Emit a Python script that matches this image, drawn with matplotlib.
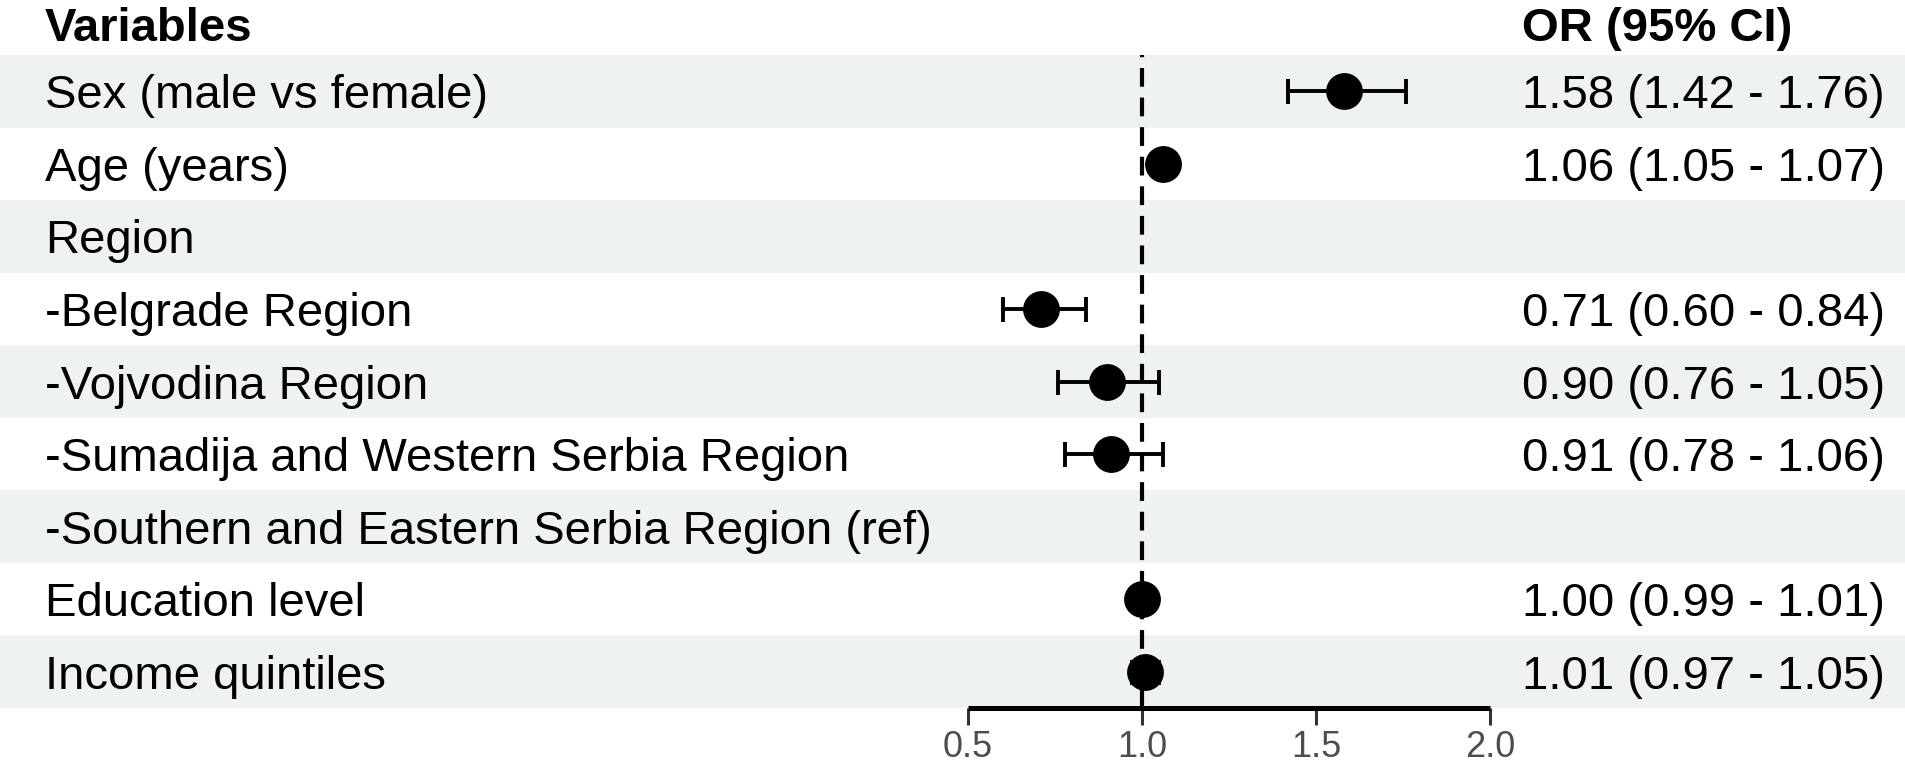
"""
Forest plot of odds ratios (95% CI) with a table-style layout.
"""

import matplotlib
matplotlib.use("Agg")

import matplotlib.pyplot as plt
import matplotlib.transforms as mtransforms
from matplotlib.patches import Rectangle

# ── Data ──────────────────────────────────────────────────────────────────────
variables = [
    "Sex (male vs female)",
    "Age (years)",
    "Region",
    "-Belgrade Region",
    "-Vojvodina Region",
    "-Sumadija and Western Serbia Region",
    "-Southern and Eastern Serbia Region (ref)",
    "Education level",
    "Income quintiles",
]
odds_ratio = [1.58, 1.06, None, 0.71, 0.90, 0.91, None, 1.00, 1.01]
ci_low     = [1.42, 1.05, None, 0.60, 0.76, 0.78, None, 0.99, 0.97]
ci_high    = [1.76, 1.07, None, 0.84, 1.05, 1.06, None, 1.01, 1.05]
x_ticks    = [0.5, 1.0, 1.5, 2.0]
ref_line   = 1.0

# ── Design tokens ─────────────────────────────────────────────────────────────
COLOR_BAND  = "#EEF2F1"
COLOR_TEXT  = "#000000"
COLOR_TICK  = "#4D4D4D"
COLOR_TICKM = "#333333"
FONT        = ["Liberation Sans", "DejaVu Sans"]
FS_MAIN     = 34
FS_TICK     = 26

W, H, DPI = 1905, 769, 100

# layout in pixels (from the top-left corner)
ROWS_TOP    = 55
ROWS_BOTTOM = 708
AX_LEFT     = 968
AX_RIGHT    = 1490
LABEL_X     = 45
OR_X        = 1522
HEADER_Y    = 24


def _fx(px):
    return px / W


def _fy(py):
    return 1 - py / H


fig = plt.figure(figsize=(W / DPI, H / DPI), dpi=DPI, facecolor="white")
ax = fig.add_axes([_fx(AX_LEFT), _fy(ROWS_BOTTOM),
                   _fx(AX_RIGHT - AX_LEFT), (ROWS_BOTTOM - ROWS_TOP) / H])

n = len(variables)
ax.set_xlim(x_ticks[0], x_ticks[-1])
ax.set_ylim(n - 0.5, -0.5)
ax.patch.set_alpha(0)

# figure-wide x, data y
row_tf = mtransforms.blended_transform_factory(fig.transFigure, ax.transData)

# ── Alternating row bands ─────────────────────────────────────────────────────
for i in range(n):
    if i % 2 == 0:
        ax.add_patch(Rectangle((0, i - 0.5), 1, 1, transform=row_tf,
                               facecolor=COLOR_BAND, edgecolor="none",
                               zorder=0, clip_on=False))

# ── Reference line ────────────────────────────────────────────────────────────
ax.axvline(ref_line, color="black", linewidth=3, linestyle=(0, (4.5, 2.6)),
           zorder=1)

# ── Points and CIs ────────────────────────────────────────────────────────────
for i, (est, lo, hi) in enumerate(zip(odds_ratio, ci_low, ci_high)):
    if est is None:
        continue
    ax.errorbar(est, i, xerr=[[est - lo], [hi - est]], fmt="o",
                color="black", markersize=25.5, elinewidth=2.8, capsize=9,
                capthick=2.8, zorder=3, clip_on=False)

# ── Table text ────────────────────────────────────────────────────────────────
for i, name in enumerate(variables):
    ax.text(_fx(LABEL_X), i, name, transform=row_tf, ha="left",
            va="center_baseline", fontsize=FS_MAIN, family=FONT,
            color=COLOR_TEXT, zorder=2)
    if odds_ratio[i] is not None:
        label = f"{odds_ratio[i]:.2f} ({ci_low[i]:.2f} - {ci_high[i]:.2f})"
        ax.text(_fx(OR_X), i, label, transform=row_tf, ha="left",
                va="center_baseline", fontsize=FS_MAIN, family=FONT,
                color=COLOR_TEXT, zorder=2)

fig.text(_fx(LABEL_X), _fy(HEADER_Y), "Variables", ha="left",
         va="center_baseline", fontsize=FS_MAIN, family=FONT,
         fontweight="bold", color=COLOR_TEXT)
fig.text(_fx(OR_X), _fy(HEADER_Y), "OR (95% CI)", ha="left",
         va="center_baseline", fontsize=FS_MAIN, family=FONT,
         fontweight="bold", color=COLOR_TEXT)

# ── Axis styling ──────────────────────────────────────────────────────────────
ax.spines[["top", "right", "left"]].set_visible(False)
ax.spines["bottom"].set_linewidth(3.6)
ax.spines["bottom"].set_bounds(x_ticks[0], x_ticks[-1])
ax.spines["bottom"].set_capstyle("butt")
ax.set_yticks([])
ax.set_xticks(x_ticks)
ax.set_xticklabels([f"{t:.1f}" for t in x_ticks], family=FONT)
ax.tick_params(axis="x", length=12, width=2.2, color=COLOR_TICKM,
               labelsize=FS_TICK, labelcolor=COLOR_TICK, pad=4)

fig.savefig("out.png", dpi=DPI, facecolor="white")
plt.close(fig)
